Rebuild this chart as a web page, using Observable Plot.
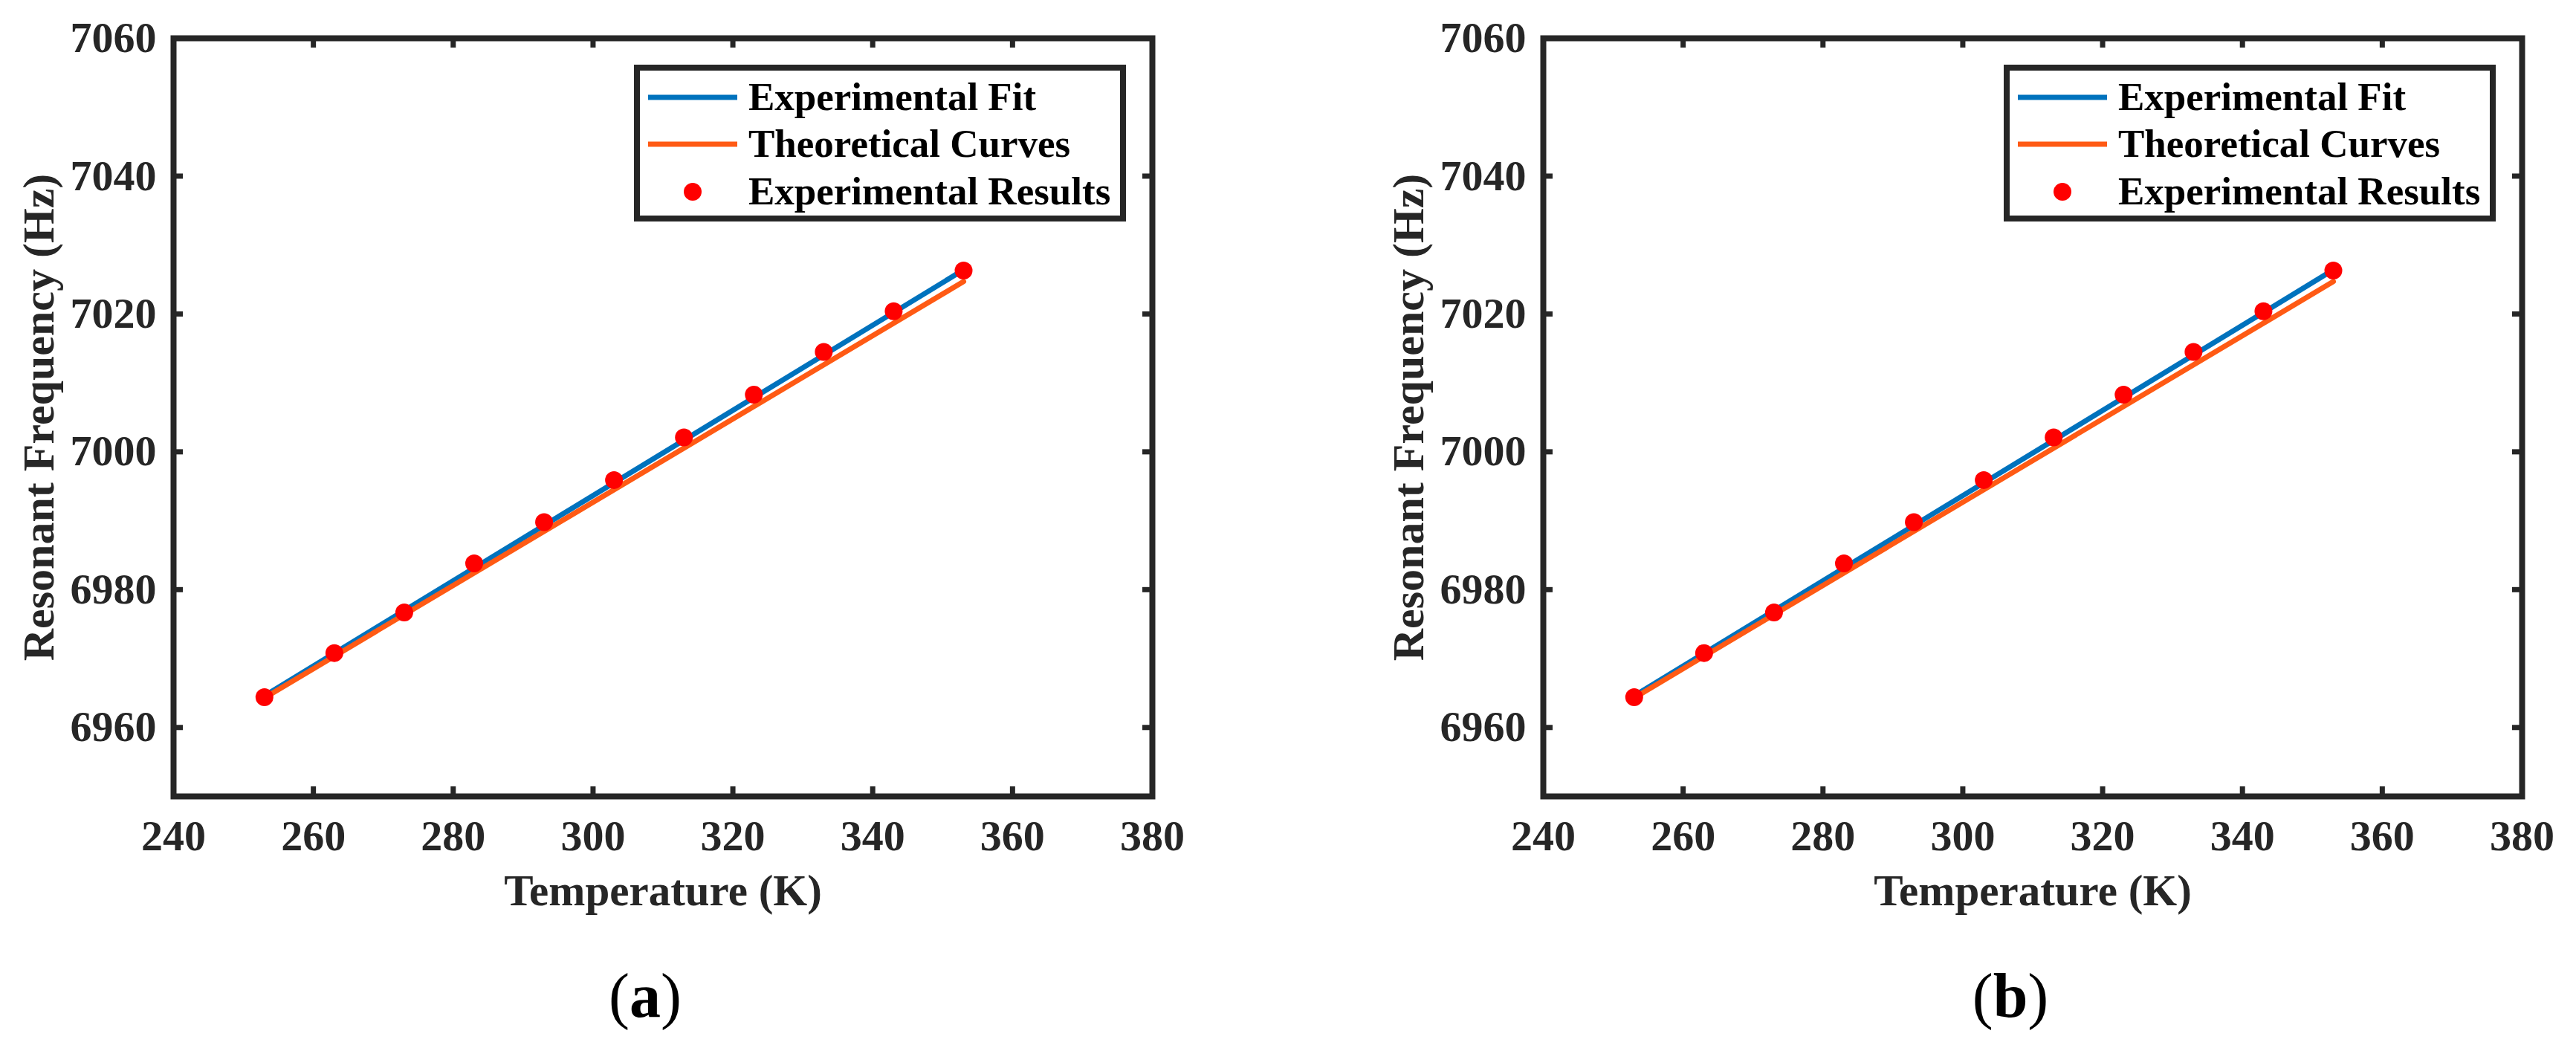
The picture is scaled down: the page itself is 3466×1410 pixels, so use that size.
<!DOCTYPE html>
<html>
<head>
<meta charset="utf-8">
<script src="https://cdn.jsdelivr.net/npm/d3@7"></script>
<script src="https://cdn.jsdelivr.net/npm/@observablehq/plot@0.6"></script>
<style>
  html, body { margin: 0; padding: 0; background: #fff; }
  #root { position: relative; width: 3466px; height: 1410px; overflow: hidden; background: #fff; }
  .panel { position: absolute; top: 0; }
  .panel svg text { font-family: "Liberation Serif", serif; }
  .legend { position: absolute; border: 8px solid #262626; background: #fff; box-sizing: border-box; }
  .legend .row { position: absolute; left: 0; right: 0; height: 0; }
  .legend svg { position: absolute; overflow: visible; }
  .legend span { position: absolute; font-family: "Liberation Serif", serif; font-weight: bold; font-size: 53px; line-height: 1; color: #000; white-space: nowrap; }
  .caption { position: absolute; width: 400px; text-align: center; font-family: "Liberation Serif", serif; font-size: 84px; line-height: 1; color: #000; }
  .caption b { font-weight: bold; }
</style>
</head>
<body>
<div id="root"></div>
<script>
// ---- data ----
const temperatures = [253, 263, 273, 283, 293, 303, 313, 323, 333, 343, 353];
const measuredFreq = [6964.4, 6970.8, 6976.7, 6983.8, 6989.8, 6995.9, 7002.1, 7008.3, 7014.5, 7020.4, 7026.3];
const fitTemps = [253, 353];
const fitFreq = [6964.6, 7026.4];
const theoryTemps = [253, 353];
const theoryFreq = [6964.3, 7024.7];
const xTicks = [240, 260, 280, 300, 320, 340, 360, 380];
const yTicks = [6960, 6980, 7000, 7020, 7040, 7060];
const xDomain = [240, 380];
const yDomain = [6950, 7060];
const seriesNames = ["Experimental Fit", "Theoretical Curves", "Experimental Results"];
const seriesColors = ["#0072BD", "#FF5A14", "#FF0000"];
const panelLetters = ["a", "b"];
const xLabel = "Temperature (K)";
const yLabel = "Resonant Frequency (Hz)";

const measured = temperatures.map((t, i) => ({t, f: measuredFreq[i]}));
const fit = fitTemps.map((t, i) => ({t, f: fitFreq[i]}));
const theory = theoryTemps.map((t, i) => ({t, f: theoryFreq[i]}));

const root = document.getElementById("root");
const FRAME_W = 1317, FRAME_H = 1020, MT = 51, MB = 209, ML = 233;
const AX = "#262626";
const TICK = 13;
const FONT = "'Liberation Serif', serif";

function makePanel(offsetX, totalWidth, letter, captionCenter) {
  const chart = Plot.plot({
    width: totalWidth,
    height: MT + FRAME_H + MB,
    marginTop: MT,
    marginBottom: MB,
    marginLeft: ML,
    marginRight: totalWidth - ML - FRAME_W,
    style: {fontFamily: FONT, fontWeight: "bold", color: AX, background: "transparent", overflow: "visible"},
    x: {domain: xDomain},
    y: {domain: yDomain},
    marks: [
      Plot.axisX({ticks: xTicks, tickSize: 0, tickPadding: 31, fontSize: 58, fontFamily: FONT, fontWeight: "bold", fill: AX, label: null, tickFormat: d => String(d)}),
      Plot.axisY({ticks: yTicks, tickSize: 0, tickPadding: 23, fontSize: 58, fontFamily: FONT, fontWeight: "bold", fill: AX, label: null, tickFormat: d => String(d)}),
      // inward ticks on all four sides
      Plot.ruleX(xTicks, {x: d => d, insetTop: FRAME_H - TICK, stroke: AX, strokeWidth: 7}),
      Plot.ruleX(xTicks, {x: d => d, insetBottom: FRAME_H - TICK, stroke: AX, strokeWidth: 7}),
      Plot.ruleY(yTicks, {y: d => d, insetRight: FRAME_W - TICK, stroke: AX, strokeWidth: 7}),
      Plot.ruleY(yTicks, {y: d => d, insetLeft: FRAME_W - TICK, stroke: AX, strokeWidth: 7}),
      Plot.line(fit, {x: "t", y: "f", stroke: seriesColors[0], strokeWidth: 7}),
      Plot.line(theory, {x: "t", y: "f", stroke: seriesColors[1], strokeWidth: 7}),
      Plot.dot(measured, {x: "t", y: "f", r: 12, fill: seriesColors[2], stroke: "none"}),
      Plot.frame({stroke: AX, strokeWidth: 8}),
      Plot.text([xLabel], {frameAnchor: "bottom", dy: 128, fontSize: 59, fontFamily: FONT, fontWeight: "bold", fill: AX, textAnchor: "middle", lineAnchor: "middle"}),
      Plot.text([yLabel], {frameAnchor: "left", dx: 52 - ML, rotate: -90, fontSize: 60, fontFamily: FONT, fontWeight: "bold", fill: AX, textAnchor: "middle", lineAnchor: "middle"})
    ]
  });
  const wrap = document.createElement("div");
  wrap.className = "panel";
  wrap.style.left = offsetX + "px";
  wrap.appendChild(chart);
  root.appendChild(wrap);

  // legend (inside the plot area, top right)
  const lg = document.createElement("div");
  lg.className = "legend";
  lg.style.left = (offsetX + 853) + "px";
  lg.style.top = "87px";
  lg.style.width = "662px";
  lg.style.height = "211px";
  const rowsY = [36, 99, 163];
  seriesNames.forEach((name, i) => {
    const row = document.createElement("div");
    row.className = "row";
    row.style.top = rowsY[i] + "px";
    const ns = "http://www.w3.org/2000/svg";
    const sw = document.createElementNS(ns, "svg");
    sw.setAttribute("width", "140");
    sw.setAttribute("height", "2");
    sw.style.left = "0px";
    sw.style.top = "0px";
    if (i < 2) {
      const ln = document.createElementNS(ns, "line");
      ln.setAttribute("x1", 11); ln.setAttribute("x2", 131);
      ln.setAttribute("y1", 0); ln.setAttribute("y2", 0);
      ln.setAttribute("stroke", seriesColors[i]);
      ln.setAttribute("stroke-width", 7);
      sw.appendChild(ln);
    } else {
      const c = document.createElementNS(ns, "circle");
      c.setAttribute("cx", 71); c.setAttribute("cy", 0); c.setAttribute("r", 12);
      c.setAttribute("fill", seriesColors[2]);
      sw.appendChild(c);
    }
    row.appendChild(sw);
    const sp = document.createElement("span");
    sp.textContent = name;
    sp.style.left = "146px";
    sp.style.top = "-27px";
    row.appendChild(sp);
    lg.appendChild(row);
  });
  root.appendChild(lg);

  const cap = document.createElement("div");
  cap.className = "caption";
  cap.append("(");
  const b = document.createElement("b");
  b.textContent = letter;
  cap.append(b);
  cap.append(")");
  cap.style.left = (captionCenter - 200) + "px";
  cap.style.top = "1298px";
  root.appendChild(cap);
}

makePanel(0, 1843, panelLetters[0], 868);
makePanel(1843, 1623, panelLetters[1], 2705);
</script>
</body>
</html>
